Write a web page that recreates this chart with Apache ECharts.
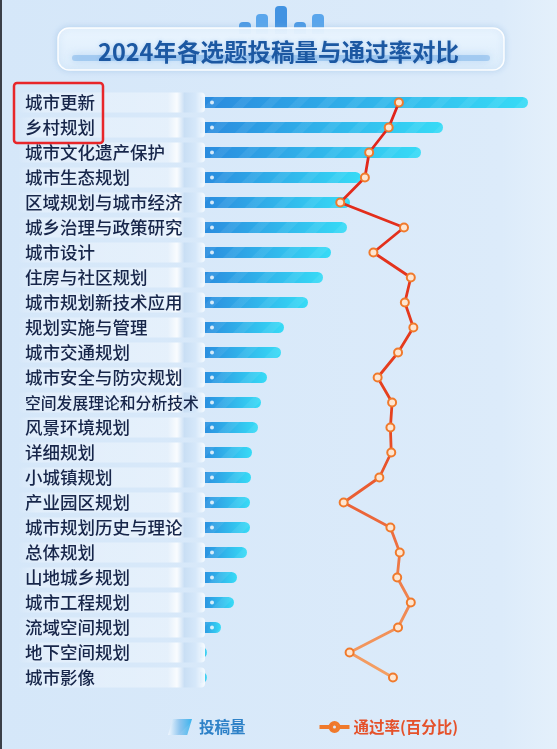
<!DOCTYPE html>
<html>
<head>
<meta charset="utf-8">
<script src="https://cdn.jsdelivr.net/npm/echarts@6/dist/echarts.min.js"></script>
<style>
html,body{margin:0;padding:0;background:#d9eafa;}
#c{width:557px;height:749px;}
</style>
</head>
<body>
<div id="c"></div>
<script>
// ---- data ----
const categories = ['城市更新','乡村规划','城市文化遗产保护','城市生态规划','区域规划与城市经济','城乡治理与政策研究','城市设计','住房与社区规划','城市规划新技术应用','规划实施与管理','城市交通规划','城市安全与防灾规划','空间发展理论和分析技术','风景环境规划','详细规划','小城镇规划','产业园区规划','城市规划历史与理论','总体规划','山地城乡规划','城市工程规划','流域空间规划','地下空间规划','城市影像'];
const submissions = [328,243,221,161,150,147,131,123,108,84,81,67,61,58,52,51,50,50,47,37,34,21,7,7];
const passRate = [23.4,22.2,19.9,19.4,16.5,24.0,20.4,24.8,24.1,25.1,23.3,20.9,22.6,22.4,22.5,21.1,16.9,22.4,23.5,23.2,24.8,23.3,17.6,22.7];
const seriesNames = ['投稿量','通过率(百分比)'];
const titleText = '2024年各选题投稿量与通过率对比';

const FONT = '"Noto Sans CJK SC", "Noto Sans", sans-serif';
const chart = echarts.init(document.getElementById('c'));

const plateData = categories.map(() => 1);
const dotData = submissions.map(v => (v > 14 ? 12 : null));

chart.setOption({
  backgroundColor: new echarts.graphic.LinearGradient(0, 0, 1, 0, [
    {offset: 0, color: '#d5e7f9'},
    {offset: 0.9, color: '#dcebfa'},
    {offset: 1, color: '#e4f0fb'}
  ]),
  animation: false,
  textStyle: {fontFamily: FONT},
  title: {
    text: titleText,
    left: 'center',
    top: 35,
    textStyle: {
      fontFamily: FONT, fontSize: 23.5, fontWeight: 'bold', color: '#1c58a2',
      textShadowColor: 'rgba(90,150,220,0.35)', textShadowBlur: 4
    }
  },
  graphic: [
    {type: 'rect', left: 0, top: 0, shape: {width: 2, height: 749}, style: {fill: '#3a3f48'}, z: 100},
    {type: 'rect', shape: {x: 239, y: 22, width: 12, height: 12, r: [4,4,0,0]}, style: {fill: '#4d9be6'}, z: 1},
    {type: 'rect', shape: {x: 256, y: 14, width: 12, height: 20, r: [4,4,0,0]}, style: {fill: '#5aa6ec'}, z: 1},
    {type: 'rect', shape: {x: 275, y: 6, width: 12, height: 28, r: [4,4,0,0]}, style: {fill: '#4293e2'}, z: 1},
    {type: 'rect', shape: {x: 294, y: 22, width: 12, height: 12, r: [4,4,0,0]}, style: {fill: '#4d9be6'}, z: 1},
    {type: 'rect', shape: {x: 312, y: 14, width: 12, height: 20, r: [4,4,0,0]}, style: {fill: '#5aa6ec'}, z: 1},
    {type: 'rect', shape: {x: 58, y: 28, width: 446, height: 42, r: 11},
      style: {
        fill: new echarts.graphic.LinearGradient(0, 0, 0, 1, [
          {offset: 0, color: 'rgba(236,246,255,0.96)'},
          {offset: 1, color: 'rgba(222,238,252,0.96)'}
        ]),
        stroke: 'rgba(255,255,255,0.95)', lineWidth: 1.5,
        shadowColor: 'rgba(120,170,220,0.35)', shadowBlur: 6
      }, z: 2},
    {type: 'rect', shape: {x: 72, y: 55, width: 418, height: 6, r: 3},
      style: {fill: 'rgba(110,170,230,0.45)', shadowColor: 'rgba(110,170,230,0.8)', shadowBlur: 8}, z: 3},
    {type: 'rect', shape: {x: 14, y: 83, width: 89, height: 60, r: 3},
      style: {fill: 'none', stroke: '#e8262a', lineWidth: 2.5}, z: 50}
  ],
  legend: {
    left: 163, top: 714,
    itemWidth: 28, itemHeight: 16, itemGap: 74,
    textStyle: {fontFamily: FONT, fontSize: 15.5, fontWeight: 'bold'},
    data: [
      {name: seriesNames[0], textStyle: {color: '#2f82c8'},
        icon: 'path://M6,0 L30,0 L24,20 L0,20 Z',
        itemStyle: {color: new echarts.graphic.LinearGradient(0, 0, 1, 0, [
          {offset: 0, color: '#f2f8ff'}, {offset: 0.5, color: '#8cc4ee'}, {offset: 1, color: '#3bb4ee'}])}},
      {name: seriesNames[1], textStyle: {color: '#e5512a'},
        icon: 'path://M0,9 L9,9 L9,11 L0,11 Z M19,9 L28,9 L28,11 L19,11 Z M9,10 A5,5 0 1,1 19,10 A5,5 0 1,1 9,10 Z M11.5,10 A2.5,2.5 0 1,0 16.5,10 A2.5,2.5 0 1,0 11.5,10 Z',
        itemStyle: {color: new echarts.graphic.LinearGradient(0, 0, 1, 0, [
          {offset: 0, color: '#e3261b'}, {offset: 0.5, color: '#f07a2c'}, {offset: 1, color: '#f4a266'}])}}
    ]
  },
  grid: [
    {left: 200, right: 17, top: 90, bottom: 59},
    {left: 18, width: 187, top: 90, bottom: 59}
  ],
  xAxis: [
    {type: 'value', gridIndex: 0, min: 0, max: 340, show: false},
    {type: 'value', gridIndex: 0, min: 0, max: 40, show: false},
    {type: 'value', gridIndex: 1, min: 0, max: 1, show: false}
  ],
  yAxis: [
    {type: 'category', gridIndex: 0, data: categories, inverse: true, z: 10,
      axisLine: {show: false}, axisTick: {show: false}, splitLine: {show: false},
      axisLabel: {align: 'left', margin: 175, fontSize: 17.5, fontWeight: 500, color: '#17264a', fontFamily: FONT,
        formatter: v => (v.length > 10 ? '{s|' + v + '}' : v),
        rich: {s: {fontSize: 15.8, fontWeight: 500, color: '#17264a', fontFamily: FONT}}}},
    {type: 'category', gridIndex: 1, data: categories, inverse: true, show: false}
  ],
  series: [
    {
      name: seriesNames[0], type: 'bar', xAxisIndex: 0, yAxisIndex: 0, data: submissions,
      barWidth: 11, z: 2,
      itemStyle: {
        borderRadius: [0, 6, 6, 0],
        color: new echarts.graphic.LinearGradient(0, 0, 1, 0, [
          {offset: 0, color: '#2a8ade'},
          {offset: 1, color: '#37dbf6'}
        ]),
        decal: {symbol: 'rect', symbolSize: 1, dashArrayX: [1, 0], dashArrayY: [8, 12],
          rotation: -Math.PI / 4, color: 'rgba(255,255,255,0.07)'}
      }
    },
    {
      name: 'plate', type: 'bar', xAxisIndex: 2, yAxisIndex: 1, data: plateData,
      barWidth: 20, silent: true, z: 3,
      itemStyle: {
        borderRadius: 4,
        color: new echarts.graphic.LinearGradient(0, 0, 1, 0, [
          {offset: 0, color: 'rgba(255,255,255,0)'},
          {offset: 0.1, color: 'rgba(255,255,255,0.3)'},
          {offset: 0.8, color: 'rgba(255,255,255,0.35)'},
          {offset: 0.85, color: 'rgba(255,255,255,0.85)'},
          {offset: 0.89, color: 'rgba(200,222,244,0.92)'},
          {offset: 0.95, color: 'rgba(214,232,250,0.95)'},
          {offset: 1, color: 'rgba(248,252,255,0.97)'}
        ])
      }
    },
    {
      name: 'dot', type: 'scatter', xAxisIndex: 0, yAxisIndex: 0, data: dotData,
      symbolSize: 4, silent: true, z: 4,
      itemStyle: {color: '#ffffff'}
    },
    {
      name: seriesNames[1], type: 'line', xAxisIndex: 1, yAxisIndex: 0, data: passRate,
      z: 5, symbol: 'circle', symbolSize: 8,
      lineStyle: {width: 2.8,
        color: new echarts.graphic.LinearGradient(0, 0, 0, 1, [
          {offset: 0, color: '#e1221a'},
          {offset: 0.55, color: '#e6431f'},
          {offset: 1, color: '#f4a266'}
        ])},
      itemStyle: {color: '#fde6d2', borderColor: '#f07a2c', borderWidth: 2}
    }
  ]
});
</script>
</body>
</html>
